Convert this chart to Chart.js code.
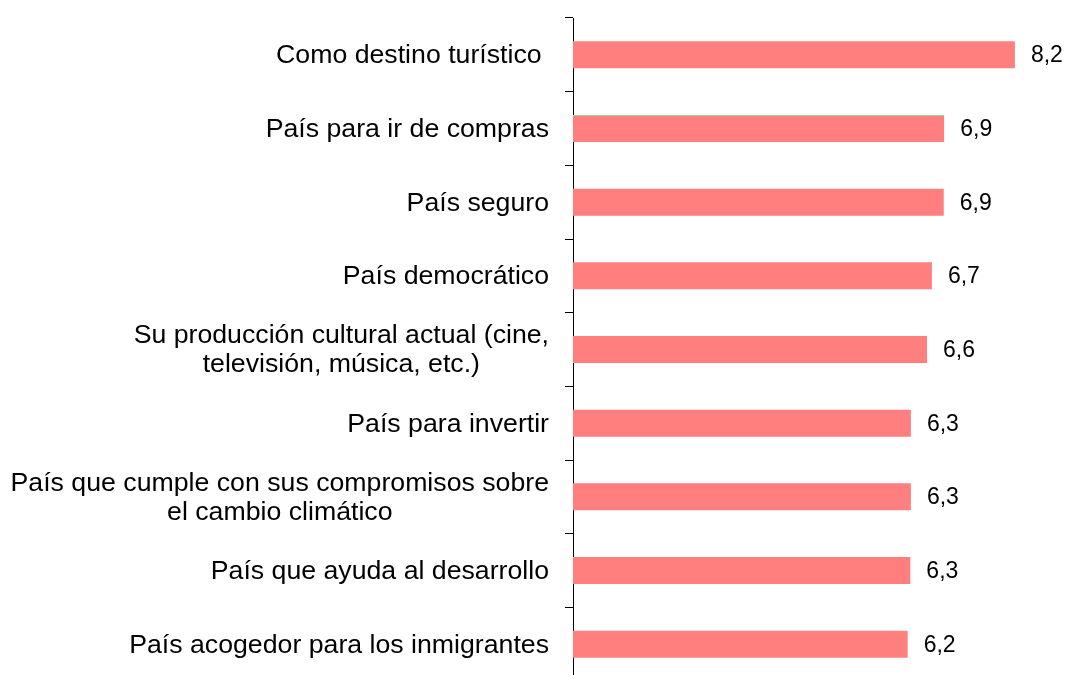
<!DOCTYPE html>
<html>
<head>
<meta charset="utf-8">
<script src="https://cdn.jsdelivr.net/npm/chart.js@4.4.1/dist/chart.umd.min.js"></script>
<style>
  html, body { margin: 0; padding: 0; background: #fff; overflow: hidden; }
  #wrap { width: 1067px; height: 690px; position: relative; }
</style>
</head>
<body>
<div id="wrap"><canvas id="chart"></canvas></div>
<script>
// categories (multi-line ones as arrays)
const categories = [
    'Como destino turístico ',
    'País para ir de compras',
    'País seguro',
    'País democrático',
    ['Su producción cultural actual (cine,', 'televisión, música, etc.)'],
    'País para invertir',
    ['País que cumple con sus compromisos sobre', 'el cambio climático'],
    'País que ayuda al desarrollo',
    'País acogedor para los inmigrantes'
];
const values = [8.2, 6.89, 6.88, 6.66, 6.57, 6.27, 6.27, 6.26, 6.21];

const barColor = '#ff7f7f';
const fontFamily = '"Liberation Sans", Arial, sans-serif';

const fmt = (v) => v.toFixed(1).replace('.', ',');

// category labels: right-aligned block, lines centred inside it (Excel style)
const categoryLabels = {
    id: 'categoryLabels',
    afterDraw(chart) {
        const ctx = chart.ctx;
        const y = chart.scales.y;
        const right = chart.chartArea.left - 24;
        const lineH = 29;
        ctx.save();
        ctx.font = '26.7px ' + fontFamily;
        ctx.fillStyle = '#000';
        ctx.textBaseline = 'middle';
        ctx.textAlign = 'center';
        categories.forEach((lbl, i) => {
            const lines = Array.isArray(lbl) ? lbl : [lbl];
            const w = Math.max(...lines.map(l => ctx.measureText(l).width));
            const cx = right - w / 2;
            const cy = y.getPixelForValue(i);
            const y0 = cy - (lines.length - 1) * lineH / 2 + 1;
            lines.forEach((l, k) => ctx.fillText(l, cx, y0 + k * lineH));
        });
        ctx.restore();
    }
};

// value labels to the right of each bar
const valueLabels = {
    id: 'valueLabels',
    afterDatasetsDraw(chart) {
        const ctx = chart.ctx;
        const meta = chart.getDatasetMeta(0);
        ctx.save();
        ctx.font = '23px ' + fontFamily;
        ctx.fillStyle = '#000';
        ctx.textBaseline = 'middle';
        ctx.textAlign = 'left';
        meta.data.forEach((bar, i) => {
            ctx.fillText(fmt(values[i]), bar.x + 16, bar.y + 1);
        });
        ctx.restore();
    }
};

new Chart(document.getElementById('chart'), {
    type: 'bar',
    data: {
        labels: categories,
        datasets: [{
            data: values,
            backgroundColor: barColor,
            borderColor: (c) => c.dataIndex === 1 ? '#8fd6a0' : barColor,
            borderWidth: (c) => c.dataIndex === 1 ? { top: 1, right: 0, bottom: 0, left: 0 } : 0,
            borderSkipped: false,
            categoryPercentage: 1,
            barPercentage: 0.367
        }]
    },
    options: {
        indexAxis: 'y',
        responsive: true,
        maintainAspectRatio: false,
        animation: false,
        layout: { padding: { top: 18, right: 9, bottom: 9, left: 0 } },
        plugins: {
            legend: { display: false },
            tooltip: { enabled: false }
        },
        scales: {
            x: {
                display: false,
                min: 0,
                max: 9
            },
            y: {
                afterFit: (s) => { s.width = 573; },
                ticks: { display: false },
                grid: {
                    drawOnChartArea: false,
                    drawTicks: true,
                    tickLength: 8,
                    color: '#000',
                    offset: true
                },
                border: { display: true, color: '#000', width: 1 }
            }
        }
    },
    plugins: [categoryLabels, valueLabels]
});
</script>
</body>
</html>
